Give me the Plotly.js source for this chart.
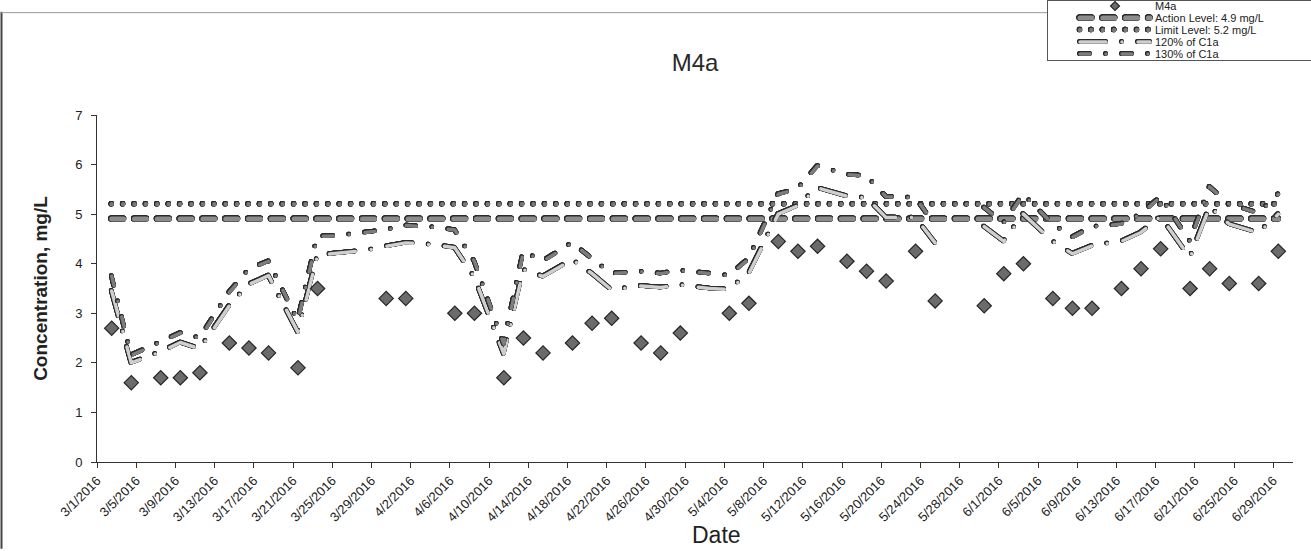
<!DOCTYPE html>
<html>
<head>
<meta charset="utf-8">
<script src="https://cdn.plot.ly/plotly-3.0.1.min.js"></script>
<style>
html,body{margin:0;padding:0;background:#fff;}
#chart{width:1311px;height:551px;}
#chart path.js-line{
  stroke-linecap:round;stroke-linejoin:round;
  filter:drop-shadow(0.7px 0 0 #2b2b2b) drop-shadow(-0.7px 0 0 #2b2b2b) drop-shadow(0 0.7px 0 #2b2b2b) drop-shadow(0 -0.7px 0 #2b2b2b);
}
</style>
</head>
<body>
<div id="chart"></div>
<script>
// ---- data ----
const m4aDates = ['2016-03-02','2016-03-04','2016-03-07','2016-03-09','2016-03-11','2016-03-14','2016-03-16','2016-03-18','2016-03-21','2016-03-23',
  '2016-03-30','2016-04-01','2016-04-06','2016-04-08','2016-04-11','2016-04-13','2016-04-15','2016-04-18','2016-04-20','2016-04-22',
  '2016-04-25','2016-04-27','2016-04-29','2016-05-04','2016-05-06','2016-05-09','2016-05-11','2016-05-13','2016-05-16','2016-05-18',
  '2016-05-20','2016-05-23','2016-05-25','2016-05-30','2016-06-01','2016-06-03','2016-06-06','2016-06-08','2016-06-10','2016-06-13',
  '2016-06-15','2016-06-17','2016-06-20','2016-06-22','2016-06-24','2016-06-27','2016-06-29'];
const m4aValues = [2.7,1.6,1.7,1.7,1.8,2.4,2.3,2.2,1.9,3.5,
  3.3,3.3,3.0,3.0,1.7,2.5,2.2,2.4,2.8,2.9,
  2.4,2.2,2.6,3.0,3.2,4.45,4.25,4.35,4.05,3.85,
  3.65,4.25,3.25,3.15,3.8,4.0,3.3,3.1,3.1,3.5,
  3.9,4.3,3.5,3.9,3.6,3.6,4.25];

const c1aDates = ['2016-03-02','2016-03-04','2016-03-07','2016-03-09','2016-03-11','2016-03-14','2016-03-16','2016-03-18','2016-03-21','2016-03-23',
  '2016-03-25','2016-03-28','2016-03-30','2016-04-01','2016-04-04','2016-04-06','2016-04-08','2016-04-11','2016-04-13','2016-04-15',
  '2016-04-18','2016-04-20','2016-04-22','2016-04-25','2016-04-27','2016-04-29','2016-05-02','2016-05-04','2016-05-06','2016-05-09',
  '2016-05-11','2016-05-13','2016-05-16','2016-05-18','2016-05-20','2016-05-23','2016-05-25','2016-05-27','2016-05-30','2016-06-01',
  '2016-06-03','2016-06-06','2016-06-08','2016-06-10','2016-06-13','2016-06-15','2016-06-17','2016-06-20','2016-06-22','2016-06-24',
  '2016-06-27','2016-06-29'];
const pct120Values = [3.45,2.0,2.22,2.41,2.28,3.15,3.58,3.76,2.62,4.17,
  4.21,4.27,4.35,4.42,4.38,4.32,3.73,2.18,3.88,3.74,
  4.08,3.8,3.47,3.55,3.52,3.57,3.5,3.48,3.8,5.0,
  5.17,5.53,5.36,5.33,4.93,4.93,4.42,null,4.75,4.45,
  5.0,4.45,4.2,4.36,4.45,4.63,4.95,4.12,5.15,4.8,
  4.62,5.0];
const pct130Values = [3.75,2.15,2.42,2.6,2.5,3.42,3.88,4.05,2.85,4.55,
  4.56,4.63,4.68,4.77,4.73,4.68,4.05,2.38,4.24,4.05,
  4.42,4.1,3.8,3.84,3.8,3.86,3.8,3.76,4.1,5.4,
  5.51,5.97,5.8,5.77,5.35,5.33,4.78,null,5.13,4.82,
  5.4,4.8,4.53,4.74,4.8,5.0,5.35,4.45,5.55,5.2,
  5.02,5.4];

const actionLevel = 4.9;
const limitLevel = 5.2;
const levelDates = ['2016-03-02','2016-06-29'];

const seriesNames = ['M4a','Action Level: 4.9 mg/L','Limit Level: 5.2 mg/L','120% of C1a','130% of C1a'];

// ---- drawing ----
// points sit in the middle of their date (Excel date axis)
const mid = d => d + ' 12:00';
const FONT = 'Liberation Sans, Arial, sans-serif';

const L = 97, R = 18, T = 106, B = 89, W = 1311, H = 551;
const pw = W - L - R, ph = H - T - B;
const px2x = p => (p - L) / pw;
const py2y = p => (H - B - p) / ph;

const traces = [
  {
    name: seriesNames[1], legendrank: 2,
    x: levelDates.map(mid), y: levelDates.map(() => actionLevel),
    mode: 'lines', line: {color: '#8c8c8c', width: 5, dash: '12px,10.8px'},
    hoverinfo: 'skip'
  },
  {
    name: seriesNames[2], legendrank: 3,
    x: levelDates.map(mid), y: levelDates.map(() => limitLevel),
    mode: 'lines', line: {color: '#7a7a7a', width: 4.5, dash: '0px,11.4px'},
    hoverinfo: 'skip'
  },
  {
    name: seriesNames[3], legendrank: 4,
    x: c1aDates.map(mid), y: pct120Values,
    mode: 'lines', connectgaps: false,
    line: {color: '#cfcfcf', width: 3.5, dash: '26px,16px,0px,16px'}
  },
  {
    name: seriesNames[4], legendrank: 5,
    x: c1aDates.map(mid), y: pct130Values,
    mode: 'lines', connectgaps: false,
    line: {color: '#7d7d7d', width: 3.5, dash: '10px,16px,0px,16px'}
  },
  {
    name: seriesNames[0], legendrank: 1,
    x: m4aDates.map(mid), y: m4aValues,
    mode: 'markers',
    marker: {symbol: 'diamond', size: 11, color: '#6b6b6b', line: {color: '#262626', width: 1.2}}
  }
];

const layout = {
  width: W, height: H,
  margin: {l: L, r: R, t: T, b: B, pad: 0},
  paper_bgcolor: '#ffffff', plot_bgcolor: '#ffffff',
  font: {family: FONT, color: '#222'},
  showlegend: true,
  title: {
    text: 'M4a', font: {family: FONT, size: 24, color: '#2a2a2a'},
    xref: 'paper', x: 0.5, xanchor: 'center',
    yref: 'container', y: 1 - 63 / H, yanchor: 'middle'
  },
  xaxis: {
    type: 'date',
    range: ['2016-03-01', '2016-07-01'],
    tick0: '2016-03-01', dtick: 4 * 86400000,
    tickformat: '%-m/%-d/%Y', tickangle: -45,
    tickfont: {family: FONT, size: 13, color: '#222'},
    ticks: 'outside', ticklen: 5, tickcolor: '#333', tickwidth: 1,
    showline: true, linecolor: '#333', linewidth: 1,
    showgrid: false, zeroline: false, fixedrange: true
  },
  yaxis: {
    range: [0, 7], dtick: 1, tick0: 0,
    tickfont: {family: FONT, size: 13, color: '#222'},
    ticks: 'outside', ticklen: 5, tickcolor: '#333', tickwidth: 1,
    ticklabelstandoff: 6,
    showline: true, linecolor: '#333', linewidth: 1,
    showgrid: false, zeroline: false, fixedrange: true,
    title: {text: 'Concentration, mg/L', font: {family: FONT, size: 19, color: '#222', weight: 'bold'}, standoff: 22}
  },
  legend: {
    x: px2x(1047), xanchor: 'left', y: py2y(0), yanchor: 'top',
    bgcolor: '#ffffff', bordercolor: '#555', borderwidth: 1,
    font: {family: FONT, size: 11, color: '#222'},
    itemwidth: 70, tracegroupgap: 0
  },
  annotations: [
    {text: 'Date', xref: 'paper', yref: 'paper', x: px2x(716), y: py2y(537),
     xanchor: 'center', yanchor: 'middle', showarrow: false,
     font: {family: FONT, size: 23, color: '#222'}}
  ],
  shapes: [
    {type: 'line', xref: 'paper', yref: 'paper', x0: px2x(1.5), x1: px2x(1.5), y0: py2y(0), y1: py2y(H),
     line: {color: '#444', width: 2}},
    {type: 'line', xref: 'paper', yref: 'paper', x0: px2x(0), x1: px2x(W), y0: py2y(1), y1: py2y(1),
     line: {color: '#999', width: 1}}
  ]
};

Plotly.newPlot('chart', traces, layout, {displayModeBar: false, staticPlot: true}).then(gd => {
  // compact legend rows like the reference (12 px per row, box tucked into the top-right corner)
  const leg = gd.querySelector('.legend');
  if (!leg) return;
  leg.setAttribute('transform', 'translate(1047,0)');
  const box = leg.querySelector('.scrollbox');
  if (box) { box.removeAttribute('clip-path'); box.setAttribute('transform', 'translate(0,0)'); }
  leg.querySelectorAll('.traces').forEach((g, i) => {
    g.setAttribute('transform', 'translate(28,' + (6 + i * 12) + ')');
  });
  // smaller legend diamond, as in the reference key
  leg.querySelectorAll('.legendpoints path.scatterpts').forEach(p => {
    p.setAttribute('d', 'M4.5,0L0,4.5L-4.5,0L0,-4.5Z');
  });
  const bg = leg.querySelector('rect.bg');
  if (bg) { bg.setAttribute('width', 300); bg.setAttribute('height', 60); bg.setAttribute('x', 0.5); bg.setAttribute('y', 0.5); }
});
</script>
</body>
</html>
